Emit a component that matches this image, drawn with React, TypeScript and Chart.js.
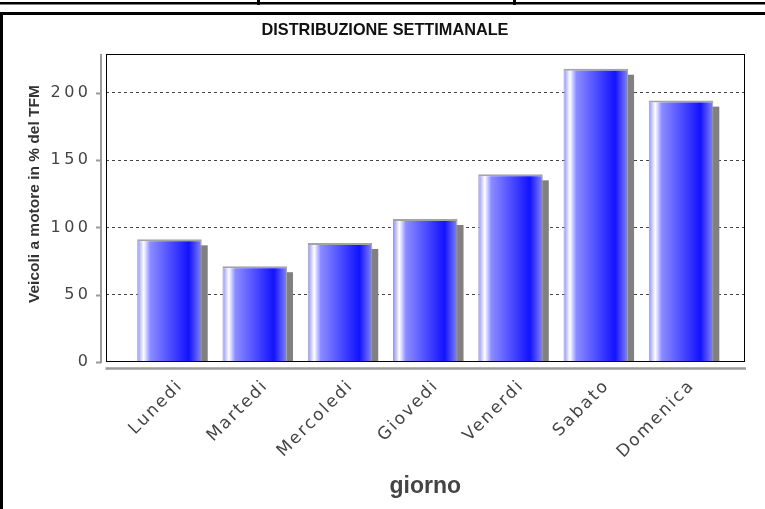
import React, { useEffect, useRef } from 'react';
import { Chart, registerables } from 'chart.js';

Chart.register(...registerables);

const categories = ['Lunedi', 'Martedi', 'Mercoledi', 'Giovedi', 'Venerdi', 'Sabato', 'Domenica'];
const values = [91.2, 71.2, 88.5, 106.3, 139.5, 218, 194.3];
const yTicks = [0, 50, 100, 150, 200];
const yMax = 228.9;
const chartTitle = 'DISTRIBUZIONE SETTIMANALE';
const yTitle = 'Veicoli a motore in % del TFM';
const xTitle = 'giorno';

const FONT = "'Liberation Sans', Arial, Helvetica, sans-serif";
const TICK_FONT = "'DejaVu Sans', Verdana, sans-serif";
const BAR_PCT = 0.757;

function barGradient(ctx: any) {
  const chart = ctx.chart;
  const xs = chart.scales && chart.scales.x;
  if (!xs || ctx.type !== 'data') return '#4c4cff';
  const cx = xs.getPixelForValue(ctx.dataIndex);
  const step = xs.getPixelForValue(1) - xs.getPixelForValue(0);
  const w = step * BAR_PCT;
  const x0 = cx - w / 2;
  if (!isFinite(x0) || !isFinite(w)) return '#4c4cff';
  const g = chart.ctx.createLinearGradient(x0, 0, x0 + w, 0);
  g.addColorStop(0, '#8c8cff');
  g.addColorStop(0.1, '#ffffff');
  g.addColorStop(0.2, '#8c8cff');
  g.addColorStop(0.8, '#1212ff');
  g.addColorStop(1, '#8484ff');
  return g;
}

const SPACING: Record<string, string> = { x: '2px', y: '3.5px' };

const decor = {
  id: 'decor',
  beforeDraw(chart: any) {
    const { ctx, width, height } = chart;
    ctx.save();
    ctx.fillStyle = '#ffffff';
    ctx.fillRect(0, 0, width, height);
    ctx.fillStyle = '#000000';
    // top strip
    ctx.fillRect(0, 2, width, 2.5);
    ctx.fillRect(257, 0, 3, 5);
    ctx.fillRect(513, 0, 3, 5);
    // outer frame
    ctx.fillRect(0, 12, width, 3);
    ctx.fillRect(0, 12, 3, height - 12);
    ctx.restore();

    // letter spacing for tick labels, shifted axis title
    for (const id of ['x', 'y']) {
      const s: any = chart.scales[id];
      if (s && !s.__patched) {
        const origLabels = s.drawLabels;
        s.drawLabels = function (area: any) {
          const c = this.ctx;
          c.save();
          c.letterSpacing = SPACING[id];
          origLabels.call(this, area);
          c.restore();
        };
        if (id === 'y') {
          const origTitle = s.drawTitle;
          s.drawTitle = function () {
            const c = this.ctx;
            c.save();
            c.translate(0, -14);
            origTitle.call(this);
            c.restore();
          };
        }
        s.__patched = true;
      }
    }
  },
  beforeDatasetsDraw(chart: any) {
    const { ctx, chartArea: a } = chart;
    const meta = chart.getDatasetMeta(0);
    ctx.save();
    ctx.beginPath();
    ctx.rect(a.left, a.top, a.right - a.left, a.bottom - a.top);
    ctx.clip();
    ctx.fillStyle = '#808080';
    meta.data.forEach((el: any) => {
      const p = el.getProps(['x', 'y', 'base', 'width'], true);
      ctx.fillRect(p.x - p.width / 2 + 6, p.y + 6, p.width, p.base - p.y);
    });
    ctx.restore();
  },
  afterDatasetsDraw(chart: any) {
    const { ctx, chartArea: a } = chart;
    ctx.save();
    ctx.strokeStyle = '#000000';
    ctx.lineWidth = 1;
    const l = Math.round(a.left) + 0.5;
    const t = Math.round(a.top) + 0.5;
    const r = Math.round(a.right) - 0.5;
    const b = Math.round(a.bottom) - 0.5;
    ctx.strokeRect(l, t, r - l, b - t);
    ctx.restore();
  },
  afterDraw(chart: any) {
    const { ctx, chartArea: a } = chart;
    const ys = chart.scales.y;
    ctx.save();
    ctx.strokeStyle = '#9a9a9a';
    ctx.lineWidth = 2;
    const ax = Math.round(a.left) - 5;
    ctx.beginPath();
    ctx.moveTo(ax, a.top);
    ctx.lineTo(ax, a.bottom + 1);
    ys.ticks.forEach((tk: any) => {
      const py = Math.round(ys.getPixelForValue(tk.value)) + 0.5;
      ctx.moveTo(ax - 5, py);
      ctx.lineTo(ax, py);
    });
    ctx.stroke();
    ctx.lineWidth = 2.5;
    const ay = a.bottom + 6.5;
    ctx.beginPath();
    ctx.moveTo(a.left, ay);
    ctx.lineTo(a.right + 1, ay);
    ctx.stroke();
    ctx.restore();
  },
};

export default function App() {
  const ref = useRef<HTMLCanvasElement>(null);
  useEffect(() => {
    const chart = new Chart(ref.current as HTMLCanvasElement, {
      type: 'bar',
      data: {
        datasets: [
          {
            data: values.map((v, i) => ({ x: i, y: v })),
            backgroundColor: barGradient,
            borderColor: '#a4a4a4',
            borderWidth: { top: 2, left: 1, right: 1, bottom: 0 },
            barPercentage: BAR_PCT,
            categoryPercentage: 1,
          } as any,
        ],
      },
      options: {
        responsive: false,
        animation: false,
        devicePixelRatio: 1,
        layout: { padding: { left: 25, right: 20, top: 14, bottom: 0 } },
        plugins: {
          legend: { display: false },
          tooltip: { enabled: false },
          title: {
            display: true,
            text: chartTitle,
            color: '#111111',
            font: { family: FONT, size: 16.3, weight: 'bold' },
            padding: { top: 7, bottom: 13.5 },
          },
        },
        scales: {
          x: {
            type: 'linear',
            offset: false,
            min: -0.75,
            max: 6.75,
            afterBuildTicks: (s: any) => {
              s.ticks = categories.map((_, i) => ({ value: i }));
            },
            afterFit: (s: any) => {
              s.height = 147;
              s.paddingLeft = 0;
              s.paddingRight = 0;
            },
            grid: { display: false, offset: false },
            border: { display: false },
            ticks: {
              autoSkip: false,
              minRotation: 45,
              maxRotation: 45,
              padding: 6,
              labelOffset: 11,
              color: '#444444',
              font: { family: TICK_FONT, size: 17 },
              callback: (v: any) => categories[v] ?? '',
            },
            title: {
              display: true,
              text: xTitle,
              color: '#444444',
              font: { family: FONT, size: 23, weight: 'bold' },
              padding: { top: 0, bottom: 9 },
            },
          },
          y: {
            min: 0,
            max: yMax,
            afterBuildTicks: (s: any) => {
              s.ticks = yTicks.map((v) => ({ value: v }));
            },
            afterFit: (s: any) => {
              s.width = 80.5;
            },
            grid: {
              color: (c: any) => (c.tick && c.tick.value === 0 ? 'rgba(0,0,0,0)' : '#444444'),
              lineWidth: 1,
              drawTicks: false,
            },
            border: { display: false, dash: [3, 3] },
            ticks: {
              padding: 14,
              color: '#444444',
              font: { family: TICK_FONT, size: 16 },
            },
            title: {
              display: true,
              text: yTitle,
              color: '#333333',
              font: { family: FONT, size: 15.5, weight: 'bold' },
              padding: { top: 0, bottom: 0 },
            },
          },
        },
      } as any,
      plugins: [decor],
    });
    return () => chart.destroy();
  }, []);
  return (
    <div style={{ position: 'fixed', left: 0, top: 0, width: 765, height: 509, background: '#fff' }}>
      <canvas ref={ref} width={765} height={509} style={{ display: 'block', width: 765, height: 509 }} />
    </div>
  );
}
